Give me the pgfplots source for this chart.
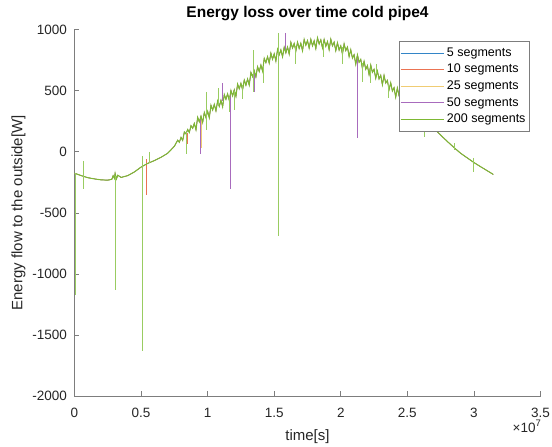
\documentclass[border=0pt]{standalone}
\usepackage{fontspec}
\setmainfont{Liberation Sans}
\usepackage{pgfplots}
\usepackage{pgfplotstable}
\pgfplotsset{compat=1.18}

\definecolor{cfive}{rgb}{0.2,0.52,0.78}
\definecolor{cten}{rgb}{0.92,0.45,0.32}
\definecolor{ctwentyfive}{rgb}{0.94,0.8,0.45}
\definecolor{cfifty}{rgb}{0.66,0.42,0.74}
\definecolor{ctwohundred}{rgb}{0.49,0.72,0.2}
\definecolor{cspike}{rgb}{0.6,0.8,0.38}
\definecolor{axgray}{rgb}{0.15,0.15,0.15}

% time in 10^6 s, energy flow in W
\pgfplotstableread{
t y
0 -175
0.5 -195
1.0 -212
1.5 -222
2.0 -230
2.5 -232
2.8 -226
2.9 -196
3.0 -218
3.05 -176
3.15 -222
3.25 -192
3.5 -210
4.0 -195
4.5 -165
5.0 -125
5.5 -95
6.0 -72
6.5 -45
7.0 -12
7.5 45
7.75 95
7.875 78
8.0 118
8.125 93
8.25 162
8.375 147
8.5 183
8.625 158
8.75 214
8.875 193
9.0 233
9.125 180
9.25 283
9.375 245
9.5 292
9.625 240
9.75 322
9.875 280
10.0 332
10.125 279
10.25 381
10.375 342
10.5 389
10.625 335
10.75 416
10.875 372
11.0 422
11.125 368
11.25 469
11.375 430
11.5 475
11.625 421
11.75 502
11.875 458
12.0 508
12.125 454
12.25 555
12.375 516
12.5 561
12.625 507
12.75 588
12.875 545
13.0 596
13.125 546
13.25 650
13.375 615
13.5 664
13.625 613
13.75 697
13.875 657
14.0 711
14.125 661
14.25 765
14.375 730
14.5 779
14.625 726
14.75 808
14.875 758
15.0 803
15.125 743
15.25 838
15.375 794
15.5 835
15.625 778
15.75 856
15.875 810
16.0 858
16.125 800
16.25 897
16.375 850
16.5 887
16.625 825
16.75 898
16.875 846
17.0 889
17.125 827
17.25 920
17.375 873
17.5 911
17.625 849
17.75 921
17.875 868
18.0 910
18.125 845
18.25 934
18.375 883
18.5 917
18.625 851
18.75 920
18.875 864
19.0 903
19.125 836
19.25 923
19.375 868
19.5 898
19.625 828
19.75 893
19.875 833
20.0 868
20.125 799
20.25 884
20.375 829
20.5 858
20.625 780
20.75 836
20.875 768
21.0 795
21.125 717
21.25 794
21.375 733
21.5 757
21.625 682
21.75 741
21.875 676
22.0 706
22.125 631
22.25 711
22.375 651
22.5 676
22.625 602
22.75 662
22.875 597
23.0 627
23.125 549
23.25 626
23.375 563
23.5 585
23.625 508
23.75 565
23.875 498
24.0 525
24.125 447
24.25 523
24.375 460
24.5 481
24.625 403
24.75 459
24.875 391
25.0 417
25.5 353
26.0 300
26.5 245
27.0 190
27.5 137
28.0 85
28.5 35
29.0 -12
29.5 -50
30.0 -88
30.5 -122
31.0 -155
31.45 -185
}\base

\pgfplotstableread{
t y
5.4 -60
5.4 -355
5.4 nan
8.45 150
8.45 60
}\orangespikes

\pgfplotstableread{
t y
9.5 270
9.5 30
}\yellowspikes

\pgfplotstableread{
t y
9.45 270
9.45 -20
9.45 nan
11.1 560
11.1 420
11.1 nan
11.67 475
11.67 -305
11.67 nan
13.5 644
13.5 490
13.5 nan
15.8 975
15.8 830
15.8 nan
21.2 760
21.2 112
}\purplespikes

\pgfplotstableread{
t y
0.02 -175
0.02 -1175
0.02 nan
0.68 -75
0.68 -305
0.68 nan
3.09 -200
3.09 -1135
3.09 nan
5.12 -35
5.12 -1635
5.12 nan
5.65 0
5.65 -90
5.65 nan
8.4 160
8.4 -20
8.4 nan
9.9 490
9.9 180
9.9 nan
10.8 520
10.8 380
10.8 nan
11.6 445
11.6 330
11.6 nan
12.0 498
12.0 340
12.0 nan
12.6 550
12.6 430
12.6 nan
13.4 830
13.4 490
13.4 nan
14.2 700
14.2 560
14.2 nan
15.3 975
15.3 -690
15.3 nan
16.6 870
16.6 720
16.6 nan
18.7 895
18.7 780
18.7 nan
20.1 855
20.1 720
20.1 nan
21.6 725
21.6 570
21.6 nan
22.2 680
22.2 560
22.2 nan
22.7 720
22.7 640
22.7 nan
23.6 555
23.6 440
23.6 nan
24.4 470
24.4 380
24.4 nan
26.3 270
26.3 120
26.3 nan
28.5 70
28.5 15
28.5 nan
29.96 -50
29.96 -165
}\greenspikes

\begin{document}
\begin{tikzpicture}
\begin{axis}[
    scale only axis,
    width=466bp, height=366.3bp,
    xmin=0, xmax=35,
    ymin=-2000, ymax=1000,
    xtick={0,5,...,35},
    xticklabels={0,0.5,1,1.5,2,2.5,3,3.5},
    ytick={-2000,-1500,...,1000},
    axis x line*=bottom, axis y line*=left,
    axis line style={-, draw=axgray!60, line width=0.6bp},
    tick style={draw=axgray!60, line width=0.6bp},
    tick align=inside,
    major tick length=4.5bp,
    /pgf/number format/assume math mode=true,
    /pgf/number format/1000 sep={},
    tick label style={font=\fontsize{13.5bp}{16bp}\selectfont, text=axgray},
    xticklabel style={anchor=base, inner sep=0pt, yshift=-21.7bp},
    yticklabel style={anchor=east, inner sep=0pt, xshift=-7.5bp},
    title={\textbf{Energy loss over time cold pipe4}},
    title style={at={(axis description cs:0.5,1)}, anchor=base, yshift=6.5bp,
        font=\fontsize{15.5bp}{18bp}\selectfont, text=black},
    xlabel={time[s]},
    xlabel style={at={(axis description cs:0.5,0)}, anchor=base, yshift=-44bp,
        font=\fontsize{15bp}{18bp}\selectfont, text=axgray},
    ylabel={Energy flow to the outside[W]},
    ylabel style={at={(axis description cs:-0.112,0.5)}, anchor=base,
        font=\fontsize{15bp}{18bp}\selectfont, text=axgray},
    unbounded coords=jump,
    every axis plot/.append style={line width=0.4bp},
    legend cell align=left,
    legend image code/.code={\draw[#1, line width=1bp] (0bp,0bp) -- (43bp,0bp);},
    legend style={at={(0.976,0.969)}, anchor=north east,
        draw=axgray!60, line width=0.6bp, fill=white,
        font=\fontsize{12.5bp}{15bp}\selectfont, text=black,
        inner xsep=1bp, inner ysep=3.5bp,
        nodes={inner sep=2.5bp, text height=9bp, text depth=2.6bp},
        row sep=0pt},
]
\addplot[draw=cfive] table[x=t, y=y] {\base};
\addlegendentry{5 segments}
\addplot[draw=cten] table[x=t, y=y] {\base};
\addlegendentry{10 segments}
\addplot[draw=cten, forget plot, line width=0.5bp] table[x=t, y=y] {\orangespikes};
\addplot[draw=ctwentyfive] table[x=t, y=y] {\base};
\addlegendentry{25 segments}
\addplot[draw=ctwentyfive, forget plot, line width=0.5bp] table[x=t, y=y] {\yellowspikes};
\addplot[draw=cfifty] table[x=t, y=y] {\base};
\addlegendentry{50 segments}
\addplot[draw=cfifty, forget plot, line width=0.5bp] table[x=t, y=y] {\purplespikes};
\addplot[draw=ctwohundred, line width=1bp] table[x=t, y=y] {\base};
\addlegendentry{200 segments}
\addplot[draw=cspike, forget plot, line width=0.5bp] table[x=t, y=y] {\greenspikes};

\coordinate (bl) at (rel axis cs:0,0);
\coordinate (tr) at (rel axis cs:1,1);
\end{axis}
\node[anchor=base east, inner sep=0pt, text=axgray,
      font=\fontsize{13.5bp}{16bp}\selectfont]
    at ([yshift=-36bp, xshift=1bp]bl -| tr) {×10\textsuperscript{7}};
\pgfresetboundingbox
\path ([shift={(-74.5bp,-51bp)}]bl) rectangle ([shift={(11.5bp,29.7bp)}]tr);
\end{tikzpicture}
\end{document}
